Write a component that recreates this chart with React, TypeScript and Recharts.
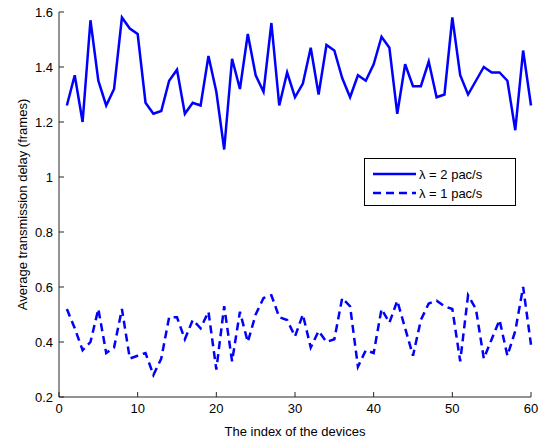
import { LineChart, Line, XAxis, YAxis, Legend, Label } from 'recharts';

// device index on the x axis
const DEVICES = Array.from({ length: 60 }, (_, i) => i + 1);

// average delay, lambda = 2 pac/s (solid)
const DELAY_L2 = [
  1.26, 1.37, 1.2, 1.57, 1.35, 1.26, 1.32, 1.58, 1.54, 1.52,
  1.27, 1.23, 1.24, 1.35, 1.39, 1.23, 1.27, 1.26, 1.44, 1.31,
  1.1, 1.43, 1.32, 1.52, 1.37, 1.31, 1.56, 1.26, 1.38, 1.29,
  1.34, 1.47, 1.3, 1.48, 1.46, 1.36, 1.29, 1.37, 1.35, 1.41,
  1.51, 1.47, 1.23, 1.41, 1.33, 1.33, 1.42, 1.29, 1.3, 1.58,
  1.37, 1.3, 1.35, 1.4, 1.38, 1.38, 1.35, 1.17, 1.46, 1.26,
];

// average delay, lambda = 1 pac/s (dashed)
const DELAY_L1 = [
  0.52, 0.45, 0.37, 0.4, 0.52, 0.36, 0.38, 0.52, 0.34, 0.35,
  0.36, 0.28, 0.34, 0.49, 0.49, 0.41, 0.48, 0.45, 0.51, 0.3,
  0.53, 0.33, 0.51, 0.4, 0.5, 0.56, 0.57, 0.49, 0.48, 0.42,
  0.5, 0.38, 0.44, 0.4, 0.41, 0.56, 0.53, 0.31, 0.37, 0.36,
  0.52, 0.47, 0.55, 0.45, 0.35, 0.48, 0.54, 0.55, 0.53, 0.52,
  0.33, 0.57, 0.52, 0.34, 0.41, 0.48, 0.35, 0.44, 0.6, 0.39,
];

const X_TICKS = [0, 10, 20, 30, 40, 50, 60];
const Y_TICKS = [0.2, 0.4, 0.6, 0.8, 1, 1.2, 1.4, 1.6];

const SERIES_NAMES = ['\u03bb = 2 pac/s', '\u03bb = 1 pac/s'];

const data = DEVICES.map((d, i) => ({ idx: d, l2: DELAY_L2[i], l1: DELAY_L1[i] }));

const FONT = '"Liberation Sans", Arial, Helvetica, sans-serif';
const BLUE = '#0000ff';
const AXIS = '#262626';

const fmtY = (v: number) => String(Number(v.toFixed(1)));

const YLabel = ({ viewBox }: any) => {
  const cx = 22;
  const cy = viewBox.y + viewBox.height / 2;
  return (
    <text x={cx} y={cy} transform={`rotate(-90 ${cx} ${cy})`} textAnchor="middle" dominantBaseline="central"
      fontFamily={FONT} fontSize={13} fill="#000">
      Average transmission delay (frames)
    </text>
  );
};

const XLabel = ({ viewBox }: any) => {
  const cx = viewBox.x + viewBox.width / 2;
  return (
    <text x={cx} y={431} textAnchor="middle" dominantBaseline="central" fontFamily={FONT} fontSize={13} fill="#000">
      The index of the devices
    </text>
  );
};

const renderLegend = () => (
  <div style={{ border: '1px solid #000', background: '#fff', width: 150, height: 46 }}>
    <svg width={150} height={46} style={{ display: 'block' }}>
      <line x1={8} x2={51} y1={15} y2={15} stroke={BLUE} strokeWidth={2.5} />
      <text x={54} y={15} dominantBaseline="central" fontFamily={FONT} fontSize={13} fill="#000">{SERIES_NAMES[0]}</text>
      <line x1={8} x2={51} y1={34} y2={34} stroke={BLUE} strokeWidth={2.5} strokeDasharray="8 5" />
      <text x={54} y={34} dominantBaseline="central" fontFamily={FONT} fontSize={13} fill="#000">{SERIES_NAMES[1]}</text>
    </svg>
  </div>
);

export default function App() {
  const tickStyle = { fontFamily: FONT, fontSize: 13, fill: '#000' };
  return (
    <div style={{ position: 'absolute', left: 0, top: 0, background: '#fff' }}>
      <LineChart width={551} height={441} data={data} margin={{ top: 12, right: 20, left: 0, bottom: 0 }}>
        <XAxis dataKey="idx" type="number" domain={[0, 60]} ticks={X_TICKS} height={44}
          tickSize={-5} tickMargin={12} tick={tickStyle} stroke={AXIS} interval={0}>
          <Label content={XLabel} />
        </XAxis>
        <XAxis xAxisId="top" orientation="top" dataKey="idx" type="number" domain={[0, 60]} ticks={X_TICKS}
          height={0} tickSize={-5} tick={false} stroke={AXIS} interval={0} />
        <YAxis type="number" domain={[0.2, 1.6]} ticks={Y_TICKS} width={59} tickFormatter={fmtY}
          tickSize={-5} tickMargin={11} tick={tickStyle} stroke={AXIS} interval={0}>
          <Label content={YLabel} />
        </YAxis>
        <YAxis yAxisId="right" orientation="right" type="number" domain={[0.2, 1.6]} ticks={Y_TICKS}
          width={0} tickSize={-5} tick={false} stroke={AXIS} interval={0} />
        <Legend content={renderLegend} layout="horizontal" verticalAlign="middle" align="center"
          wrapperStyle={{ position: 'absolute', left: 364, top: 158, width: 152, height: 48 }} />
        <Line type="linear" dataKey="l2" name={SERIES_NAMES[0]} stroke={BLUE} strokeWidth={2.5} dot={false}
          isAnimationActive={false} />
        <Line type="linear" dataKey="l1" name={SERIES_NAMES[1]} stroke={BLUE} strokeWidth={2.5} dot={false}
          strokeDasharray="8 5" isAnimationActive={false} />
      </LineChart>
    </div>
  );
}
